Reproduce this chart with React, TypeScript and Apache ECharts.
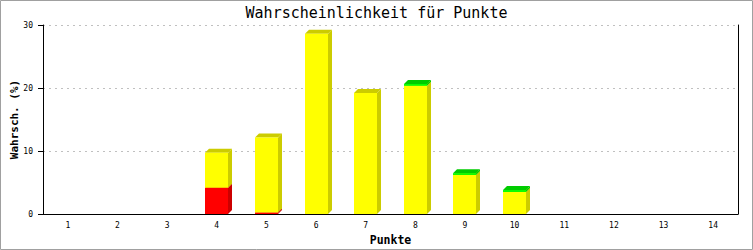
import React, { useEffect, useRef } from "react";
import * as echarts from "echarts";

const categories = ["1", "2", "3", "4", "5", "6", "7", "8", "9", "10", "11", "12", "13", "14"];
const redValues = [0, 0, 0, 4.17, 0.25, 0, 0, 0, 0, 0, 0, 0, 0, 0];
const yellowValues = [0, 0, 0, 5.56, 11.9, 28.6, 19.2, 20.35, 6.2, 3.5, 0, 0, 0, 0];
const greenValues = [0, 0, 0, 0, 0, 0, 0, 0.28, 0.28, 0.3, 0, 0, 0, 0];
const yTicks = [0, 10, 20, 30];

const MONO = "'DejaVu Sans Mono', 'Liberation Mono', monospace";

function makeSeries(name: string, values: number[], bases: number[], front: string, dark: string) {
  const data = values.map((v, i) => [i, bases[i], v]);
  return {
    type: "custom",
    name,
    data,
    encode: { x: 0, y: 2 },
    renderItem: (params: any, api: any) => {
      const cat = api.value(0);
      const base = api.value(1);
      const val = api.value(2);
      if (!(val > 0)) return null;
      const p0 = api.coord([cat, base]);
      const p1 = api.coord([cat, base + val]);
      const bw = Math.round(api.size([1, 0])[0] * 0.47);
      const d = 4;
      const x = Math.round(p0[0] - bw / 2);
      const yBot = p0[1];
      const yTop = p1[1];
      return {
        type: "group",
        children: [
          {
            type: "polygon",
            shape: { points: [[x + bw, yBot], [x + bw + d, yBot - d], [x + bw + d, yTop - d], [x + bw, yTop]] },
            style: { fill: dark },
          },
          {
            type: "polygon",
            shape: { points: [[x, yTop], [x + d, yTop - d], [x + bw + d, yTop - d], [x + bw, yTop]] },
            style: { fill: dark },
          },
          {
            type: "rect",
            shape: { x, y: yTop, width: bw, height: yBot - yTop },
            style: { fill: front },
          },
        ],
      };
    },
  };
}

export default function App() {
  const ref = useRef<HTMLDivElement>(null);
  useEffect(() => {
    document.body.style.margin = "0";
    if (!ref.current) return;
    const chart = echarts.init(ref.current, null, { renderer: "svg" });
    const redBase = redValues.map(() => 0);
    const yellowBase = redValues.slice();
    const greenBase = redValues.map((r, i) => r + yellowValues[i]);
    chart.setOption({
      animation: false,
      backgroundColor: "#ffffff",
      title: {
        text: "Wahrscheinlichkeit für Punkte",
        left: "center",
        top: 0,
        textStyle: { fontFamily: MONO, fontSize: 15, fontWeight: "normal", color: "#000" },
      },
      graphic: [
        {
          type: "rect",
          shape: { x: 0.5, y: 0.5, width: 752, height: 249 },
          style: { fill: "none", stroke: "#a0a0a0", lineWidth: 1 },
          silent: true,
        },
      ],
      grid: { left: 43, right: 15, top: 25, bottom: 36, containLabel: false, outerBoundsMode: "none" },
      xAxis: {
        type: "category",
        data: categories,
        boundaryGap: true,
        name: "Punkte",
        nameLocation: "middle",
        nameGap: 20,
        nameMoveOverlap: false,
        nameTextStyle: { fontFamily: MONO, fontSize: 11.5, fontWeight: "bold", color: "#000" },
        axisLine: { show: true, lineStyle: { color: "#000", width: 1 } },
        axisTick: { show: false },
        axisLabel: { fontFamily: MONO, fontSize: 8, color: "#000", margin: 7 },
        splitLine: { show: false },
      },
      yAxis: [
        {
          type: "value",
          min: yTicks[0],
          max: yTicks[yTicks.length - 1],
          interval: 10,
          name: "Wahrsch. (%)",
          nameLocation: "middle",
          nameGap: 23,
          nameMoveOverlap: false,
          nameTextStyle: { fontFamily: MONO, fontSize: 11, fontWeight: "bold", color: "#000" },
          axisLine: { show: true, lineStyle: { color: "#000", width: 1 } },
          axisTick: { show: true, length: 5, lineStyle: { color: "#000" } },
          axisLabel: { fontFamily: MONO, fontSize: 8, color: "#000", margin: 10 },
          splitLine: { show: true, lineStyle: { color: "#c0c0c0", type: [2, 4], width: 1 } },
        },
        {
          type: "value",
          position: "right",
          min: yTicks[0],
          max: yTicks[yTicks.length - 1],
          interval: 10,
          axisLine: { show: true, lineStyle: { color: "#000", width: 1 } },
          axisTick: { show: false },
          axisLabel: { show: false },
          splitLine: { show: false },
        },
      ],
      series: [
        makeSeries("red", redValues, redBase, "#ff0000", "#cc0000"),
        makeSeries("yellow", yellowValues, yellowBase, "#ffff00", "#cccc00"),
        makeSeries("green", greenValues, greenBase, "#00ff00", "#00cc00"),
      ],
    });
    return () => chart.dispose();
  }, []);
  return <div ref={ref} style={{ width: 753, height: 250 }} />;
}
